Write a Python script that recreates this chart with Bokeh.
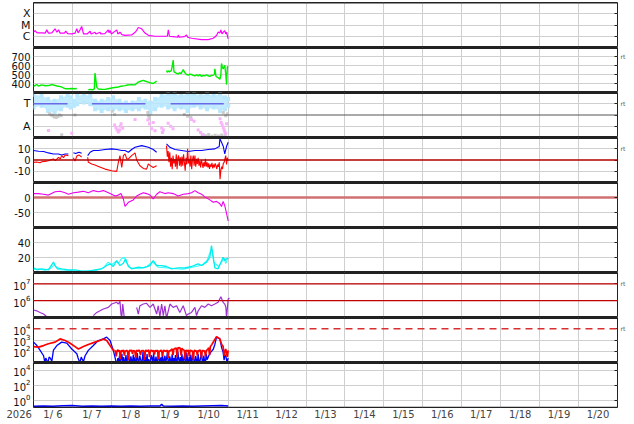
import numpy as np
from bokeh.plotting import figure
from bokeh.layouts import column
from bokeh.models import FixedTicker, Span, LinearAxis, LogAxis, Range1d
from bokeh.embed import file_html
from bokeh.resources import INLINE

nan = float("nan")

# ---------------- data (hours since 2026-01-06 00:00) ----------------
xray_h = [0, 1.0, 2.0, 3.1, 5.0, 7.2, 8.2, 9.2, 11.3, 13.3,
          14.4, 15.4, 16.4, 19.0, 19.9, 21.0, 23.6, 25.6, 26.7, 27.5,
          28.7, 29.7, 30.8, 33.0, 34.9, 35.5, 37.9, 38.5, 41.0, 41.5,
          44.0, 46.1, 46.6, 47.2, 48.0, 51.3, 52.0, 53.3, 54.5, 56.4,
          60.5, 63.0, 64.6, 66.7, 68.7, 70.8, 74.9, 79.0, 82.5, 83.1,
          83.8, 86.0, 89.0, 89.2, 89.8, 93.0, 94.3, 95.0, 97.4, 103.6,
          107.7, 110.8, 112.8, 113.8, 114.9, 115.5, 116.2, 117.0, 117.9, 118.5,
          119.0, 120.0]
xray_flux = [2.3e-6, 3.2e-6, 2.1e-6, 2.0e-6, 2.0e-6, 1.9e-6, 3.7e-6, 1.9e-6, 2.0e-6, 4.6e-6,
             2.3e-6, 3.7e-6, 1.9e-6, 1.9e-6, 2.8e-6, 1.7e-6, 1.6e-6, 1.9e-6, 4.6e-6, 2.0e-6,
             3.7e-6, 7.4e-6, 1.6e-6, 1.6e-6, 2.8e-6, 1.6e-6, 2.3e-6, 1.6e-6, 2.3e-6, 1.6e-6,
             1.7e-6, 3.7e-6, 2.0e-6, 3.2e-6, 1.6e-6, 3.7e-6, 1.6e-6, 2.3e-6, 1.4e-6, 1.2e-6,
             1.3e-6, 2.5e-6, 6.0e-6, 4.6e-6, 1.9e-6, 1.2e-6, 1.0e-6, 1.0e-6, 1.0e-6, 3.7e-6,
             1.0e-6, 9.3e-7, 8.1e-7, 1.3e-6, 8.1e-7, 9.3e-7, 1.3e-6, 8.1e-7, 6.6e-7, 5.0e-7,
             5.0e-7, 6.6e-7, 1.15e-6, 2.3e-6, 2.0e-6, 3.7e-6, 1.6e-6, 2.3e-6, 3.2e-6, 1.6e-6,
             2.3e-6, 5.8e-7]

sw_h = [0, 1, 2, 3, 4, 5, 6, 7.5, 9.2, 10.5,
        11.3, 13, 14.5, 15.4, 16.5, 17.4, 18.5, 19.5, 21.5, 23.6,
        25.6, 26.7, 27.5, 33.8, 35, 36.5, 37.5, 37.9, 38.4, 39,
        40, 42, 44.1, 46, 48.2, 50, 52.3, 54, 56.4, 58,
        60.5, 62.5, 64.6, 66, 67.7, 69, 70.8, 72.5, 73.8, 75.9,
        76.5, 82.0, 82.5, 83.1, 84, 85, 85.6, 86.1, 86.6, 87.2,
        88, 89.2, 90, 91, 92.3, 93.3, 94.3, 95.4, 96.5, 97.4,
        98.5, 99.5, 100.5, 101.5, 102.5, 103.6, 104.5, 105.6, 106.7, 107.7,
        108.7, 109.7, 110.8, 111.5, 111.8, 112.5, 113.2, 113.8, 114.4, 114.9,
        115.5, 115.9, 116.4, 116.9, 117.4, 117.9, 118.6, 119.0, 119.5, 120]
sw_speed = [369, 380, 388, 372, 378, 385, 380, 375, 377, 383,
            388, 380, 372, 369, 365, 361, 350, 342, 342, 345,
            342, 345, nan, 330, 335, 330, 340, 517, 447, 360,
            338, 336, 335, 342, 350, 355, 361, 370, 377, 383,
            388, 385, 416, 425, 435, 425, 416, 405, 400, 427,
            nan, 544, 525, 540, 530, 545, 600, 661, 530, 525,
            515, 505, 520, 510, 556, 520, 500, 493, 505, 500,
            490, 486, 495, 485, 500, 478, 490, 485, 495, 486,
            480, 490, 493, 500, 563, 480, 470, 466, 455, 447,
            500, 622, 583, 560, 583, 603, 490, 388, 583, 590]

# IMF sector (phi angle, deg): light-blue band envelope, grey and pink points
sec_h = [0, 5, 9, 13, 17, 21, 23, 25, 27, 31, 35, 38, 42, 46, 49, 53, 57,
         61, 65, 69, 72, 75, 79, 83, 87, 91, 95, 99, 103, 107, 111, 115, 118, 120]
sec_lo = [240, 254, 213, 199, 226, 254, 240, 254, 267, 281, 267, 226, 213, 226, 226, 226, 213,
          226, 226, 240, 199, 226, 254, 240, 226, 240, 213, 254, 240, 226, 240, 213, 226, 254]
sec_hi = [343, 335, 308, 295, 322, 335, 322, 295, 335, 343, 335, 295, 295, 308, 322, 295, 281,
          281, 308, 295, 281, 308, 335, 349, 349, 335, 349, 349, 335, 349, 335, 349, 322, 308]
grey_h = [10, 11, 12, 13, 14, 15, 16, 17, 17.4, 25.6, 48.5, 50, 70.5, 71, 71.5,
          93, 95, 97, 104, 106, 108, 110, 112, 114, 116, 118, 117, 118.5, 119.5]
grey_phi = [190, 180, 172, 165, 160, 168, 180, 175, 22, 180, 210, 185, 200, 170, 150,
            185, 170, 160, 20, 15, 25, 10, 18, 12, 20, 15, 200, 175, 190]
pink_h = [9.2, 23.6, 50, 50.8, 51.5, 52.3, 53, 53.5, 54, 55, 62.6, 70.5, 71.5, 72.8, 73.8,
          74.9, 79, 79.5, 80, 83, 84.5, 86, 97.4, 99, 101.5, 103, 104.5, 115, 115.7, 116.3,
          117, 117.5, 118, 118.5, 119]
pink_phi = [57, 35, 100, 80, 60, 45, 60, 90, 110, 75, 145, 140, 110, 70, 120,
            55, 76, 40, 60, 115, 90, 70, 145, 130, 60, 40, 25, 150, 120, 100,
            80, 60, 45, 30, 110]
sector_start = [0, 36, 84.5]
sector_end = [21, 69, 117.3]
sector_phi = [270, 270, 270]

bt_h = [0, 3.1, 6.2, 9.2, 12.3, 15.4, 17.4, 19.5, 21.5, 22.5,
        24.6, 26, 28, 29.7, 30.5, 33.4, 34.9, 36.9, 40, 44.1,
        48.2, 51.3, 54.4, 56.4, 58.5, 60.5, 62.6, 66.7, 70.8, 73.8,
        75.9, 77, 82.0, 84.1, 87.2, 91.3, 95.4, 99.5, 103.6, 107.7,
        111.8, 114.5, 114.9, 115.9, 117, 117.9, 119, 120]
bt_nt = [8.4, 7.8, 7.5, 6.3, 5.4, 5.4, 4.5, 5.4, 5.4, nan,
         6.5, 5.8, 6.9, 6.0, nan, 3.9, 6.9, 8.4, 8.4, 9.3,
         9.9, 9.3, 8.4, 8.4, 6.9, 9.3, 11.3, 12.8, 11.3, 9.3,
         6.9, nan, 14.3, 11.3, 9.3, 8.4, 7.5, 8.4, 8.4, 9.3,
         9.9, 12, 18.8, 15.8, 12, 5.4, 12, 15.8]
# Bz up to the data gap on 1/9
bz_h = [0, 2, 4, 5.1, 7, 9.2, 11, 12.3, 13.5, 15.4,
        16.5, 17.4, 18.5, 19.5, 21.5, 22.5, 24.6, 25.6, 26.7, 28,
        29.7, 30.5, 33.4, 33.8, 35.9, 37.9, 40.0, 44.1, 48.2, 51.3,
        52.3, 53.3, 54.4, 55.4, 56.4, 57.5, 58.5, 60.5, 62.6, 63.6,
        65.6, 67.7, 69.7, 70.8, 72, 73.8, 75.9]
bz_nt = [-2.1, -1.8, -2.4, -1.5, -1.2, -0.6, 0.5, 0.9, -0.5, 2.4,
         1.0, 3.9, 2.0, 4.5, 3.9, nan, 2.0, -1.0, 3.5, 4.5,
         2.5, nan, 2.4, -2.1, -3.6, -4.5, -5.7, -8.1, -9.6, -10.1,
         -2.1, 3.9, -6.6, 3.9, 5.4, 1.0, 0.9, 3.9, 6.3, 0.0,
         -5.1, -7.5, -8.1, -3.6, -5.0, -6.6, -5.1]
# Bz after the gap, half-hourly from 1/9 10:00
bz2_start_h = 82.0
bz2_nt = [12.8, 3.0, 8.0, -2.0, 6.9, -6.0, 2.0, -8.1, 4.0, -3.0,
          0.9, -6.0, 5.0, -8.1, 2.0, 4.0, -5.0, 2.4, -6.0, 3.0,
          -5.1, 5.0, -2.0, -9.6, 2.0, -4.0, 9.9, -3.0, 1.0, -6.0,
          4.0, -8.1, 0.0, 4.0, -5.0, 3.9, -6.0, 1.0, -3.6, 2.0,
          -5.1, -1.0, -6.6, 0.0, -3.0, -7.0, -2.0, -5.7, 1.0, -6.0,
          -2.0, -6.6, -3.0, -8.0, -4.0, -6.0, -2.5, -7.5, -4.0, -6.6,
          -3.0, -5.0, -8.0, -4.0, -6.0, -2.0, -17.0, -9.0, -6.0, -8.1,
          -3.0, -2.1, 1.0, 3.9, -4.0, 2.0, -0.6]

dst_h = [0, 3.1, 6.2, 9.2, 13.3, 16.4, 19.5, 21.5, 24.6, 27.7,
         30.8, 33.8, 36.9, 40.0, 43.1, 47.2, 50.3, 52.3, 53.9, 55.4,
         56.4, 58.5, 61.5, 63.6, 65.6, 67.7, 69.7, 71.8, 73.8, 75.9,
         77.9, 81.0, 83.1, 86.1, 89.2, 92.3, 95.4, 97.4, 99.5, 101.5,
         103.6, 105.6, 108.7, 110.8, 112.8, 114.9, 115.9, 116.9, 117.9, 119.0,
         120]
dst_nt = [13, 13, 11, 8, 19, 21, 16, 11, 16, 18,
          21, 16, 23, 19, 23, 13, 5, 8, 13, -5,
          -30, -16, -8, 5, 11, 16, 13, 8, -5, 11,
          19, 13, 16, 13, 5, 11, 13, 16, 23, 16,
          11, 2, -8, -16, -13, -21, -30, -13, -27, -53,
          -78]

cya_h = [0, 2.1, 5.1, 9.2, 12.3, 13.3, 14.4, 17.4, 21.5, 25.6,
         29.7, 33.8, 37.9, 42.0, 45.1, 47.2, 49.2, 51.3, 53.3, 55.4,
         56.8, 58.5, 60.5, 64.6, 67.7, 71.8, 73.8, 75.9, 79.0, 82.0,
         85.1, 89.2, 93.3, 97.4, 101.5, 103.6, 106.7, 108.7, 109.7, 110.8,
         111.8, 113.8, 116.9, 117.9, 119.0, 120]
cya_v = [6.2, 3.6, 4.9, 3.6, 13.8, 9.3, 6.2, 4.9, 3.6, 3.6,
         1.8, 1.8, 3.6, 4.9, 9.3, 11.6, 8.0, 16.0, 9.3, 12.4,
         18.2, 8.0, 4.9, 7.1, 6.2, 9.3, 16.0, 9.3, 9.3, 8.0,
         4.9, 6.2, 6.2, 8.0, 11.6, 9.3, 13.8, 20.4, 36.0, 20.4,
         6.2, 4.9, 20.4, 16.0, 18.2, 19.0]
cyb_h = [0, 3, 7, 11, 12.8, 15, 20, 27, 32, 38,
         43, 46, 48, 50.5, 52.5, 54, 56, 57.5, 60, 65,
         70, 73, 74.5, 77, 83, 88, 92, 96, 100, 104,
         107, 109, 110.2, 111, 114, 116, 117.5, 118.5, 120]
cyb_v = [4, 5, 3, 6, 11, 4, 3, 2, 1.5, 2.5,
         6, 13.8, 10, 14.5, 12, 18, 20.4, 12, 6, 5,
         8, 14, 12, 7, 6, 5, 4.5, 6, 8, 10,
         16, 28, 30, 14, 8, 14, 19, 12, 20]

pur_h = [0, 2, 4, 6.2, 8.2, 10.3, 11, 36.9, 39, 41,
         43.1, 46.1, 48.2, 51.3, 52.3, 53.3, 53.9, 54.4, 55, 56,
         57, 63.6, 64.6, 65.6, 67.7, 69.7, 71.8, 73.8, 75.9, 76.9,
         77.9, 79, 80, 81, 82, 84.1, 86.1, 88.2, 90.2, 92.3,
         94.3, 95.4, 97.4, 99.5, 100.5, 101.5, 103.6, 105.6, 107.7, 109.7,
         111.8, 113.8, 115.5, 116.9, 117.9, 118.6, 119.0, 120, 120.8]
pur_v = [2.8e5, 2.5e5, 2.0e5, 1.6e5, 1.1e5, 9e4, nan, 1.3e5, 2.0e5, 2.5e5,
         3.2e5, 4.0e5, 6.3e5, 8.0e5, 6.3e5, 9.1e5, 1.6e5, 1.0e5, 6.3e5, 9e4,
         nan, 4.0e5, 1.6e5, 5.0e5, 6.3e5, 7.0e5, 4.0e5, 6.3e5, 1.6e5, 5.0e5,
         1.1e5, 6.3e5, 1.3e5, 5.0e5, 9e4, 6.3e5, 4.0e5, 5.0e5, 2.0e5, 5.0e5,
         1.3e5, 1.6e5, 2.0e5, 4.0e5, 1.3e5, 2.5e5, 5.0e5, 4.0e5, 6.3e5, 5.0e5,
         6.3e5, 8.0e5, 1.7e6, 8.0e5, 6.3e5, 4.0e5, 9e4, 1.26e6, 1.45e6]

# panel 8: smooth parts (irregular hours) + noisy half-hourly parts
blue8_h = [0, 2.1, 4.1, 6.2, 7.0, 7.6, 8.2, 9.0, 9.6, 10.3,
           11.3, 12.3, 14.4, 17.4, 20.5, 23.6, 26.7, 27.5, 28.0, 28.7,
           29.4, 30.0, 30.8, 31.8, 33.8, 36.9, 39.9, 43.1, 45.1, 47.2,
           49.2, 50.5, 51.0]
blue8_v = [650, 320, 120, 40, 10, 25, 16, 10, 30, 25,
           13, 125, 320, 650, 520, 160, 60, 25, 16, 10,
           30, 20, 12, 40, 120, 320, 900, 1250, 1800, 900,
           120, 20, 10]
blue8n_start_h = 51.5
blue8n_v = [10, 25, 12, 40, 10, 18, 60, 11, 30, 10, 14, 45, 10, 22, 80, 12, 10, 35, 15, 10,
            50, 11, 28, 10, 16, 70, 12, 10, 40, 20, 10, 13, 90, 15, 10, 30, 11, 55, 10, 20,
            12, 10, 45, 25, 10, 65, 14, 10, 33, 12, 10, 85, 18, 10, 28, 11, 50, 10, 15, 40,
            10, 22, 70, 12, 10, 35, 16, 10, 60, 11, 25, 10, 45, 13, 10, 90, 20, 10, 30, 12,
            55, 10, 18, 40, 11, 10, 75, 14, 10, 32, 12, 50, 10, 20, 65, 11, 10, 38, 15, 10,
            55, 12, 10, 28, 80, 14, 10, 42, 12, 10, 60, 18, 25, 40, 50, 70, 90, 110]
blue8e_h = [110.0, 110.8, 111.8, 112.8, 113.8, 114.9, 116, 116.9, 117.5, 118, 118.5, 119.3, 120]
blue8e_v = [110, 150, 400, 1800, 1500, 1250, 200, 80, 16, 50, 40, 10, 25]

red8_h = [0, 3.1, 6.2, 9.2, 13.3, 16.4, 19.5, 22.6, 25.6, 27.7,
          30.8, 33.8, 37.9, 41.0, 43.1, 45.1, 47.2, 49.2, 50.0]
red8_v = [260, 230, 320, 460, 650, 1250, 900, 520, 260, 160,
          260, 400, 650, 900, 1250, 900, 320, 120, 120]
red8n_start_h = 50.0
red8n_v = [120, 100, 35, 110, 130, 95, 120, 20, 105, 115, 90, 130, 40, 110, 100, 125, 95, 16, 110, 120,
           100, 130, 60, 105, 115, 95, 25, 120, 110, 100, 130, 90, 45, 115, 105, 120, 100, 18, 110, 125,
           95, 115, 130, 30, 100, 120, 110, 90, 125, 50, 105, 115, 100, 130, 20, 110, 95, 120, 115, 35,
           105, 125, 100, 110, 90, 130, 25, 115, 100, 120, 140, 160, 45, 150, 170, 180, 200, 30, 210, 190,
           220, 160, 40, 180, 150, 130, 120, 20, 125, 110, 100, 130, 35, 115, 120, 100, 110, 18, 105, 125,
           95, 115, 40, 120, 100, 130, 110, 25, 105, 120, 100, 115, 35, 110, 130, 160, 200, 45, 260, 320,
           400]
red8e_h = [110.0, 110.8, 112.8, 113.8, 114.9, 116, 116.9, 117.5, 117.9, 118.5, 119.5, 120]
red8e_v = [400, 650, 2000, 1600, 1250, 400, 260, 40, 83, 160, 32, 120]

p9_h = [0, 6, 12, 18, 24, 30, 36, 42, 48, 54, 60, 66, 72, 78, 79, 80, 86, 92, 98, 104, 110, 116, 120]
p9_v = [0.15, 0.16, 0.15, 0.17, 0.18, 0.15, 0.16, 0.15, 0.16, 0.15, 0.16, 0.15,
        0.16, 0.16, 0.28, 0.16, 0.15, 0.16, 0.15, 0.16, 0.17, 0.18, 0.16]

day_grid = [7, 8, 9, 10, 11, 12, 13, 14, 15, 16, 17, 18, 19, 20]
day_label_pos = [6.5, 7.5, 8.5, 9.5, 10.5, 11.5, 12.5, 13.5, 14.5, 15.5, 16.5, 17.5, 18.5, 19.5, 20.5]
day_labels = ["1/ 6", "1/ 7", "1/ 8", "1/ 9", "1/10", "1/11", "1/12", "1/13",
              "1/14", "1/15", "1/16", "1/17", "1/18", "1/19", "1/20"]
year_label = "2026"


def days(hours):
    return [6 + h / 24.0 for h in hours]


def half_hourly(start_h, values):
    return days([start_h + 0.5 * i for i in range(len(values))])


# ---------------- layout helpers ----------------
W = 634
XR = Range1d(6, 21)
GRID = "#cfcfcf"
DARK = "#222222"
FONT = "DejaVu Sans"


def make_panel(height, yr, ytype="linear", tick_vals=(), tick_text=None, grid_vals=(),
               extra_ticks=(), rt_at=None, top=0, bottom=0, first=False, last=False):
    p = figure(width=W, height=height, x_range=XR, y_range=Range1d(*yr), y_axis_type=ytype,
               output_backend="svg", toolbar_location=None,
               min_border_left=33, min_border_right=17, min_border_top=top, min_border_bottom=bottom,
               outline_line_color=DARK, outline_line_width=1)
    p.xgrid.ticker = FixedTicker(ticks=day_grid)
    p.xgrid.grid_line_color = GRID
    p.ygrid.ticker = FixedTicker(ticks=list(grid_vals))
    p.ygrid.grid_line_color = GRID
    ya = p.yaxis[0]
    ya.ticker = FixedTicker(ticks=list(tick_vals))
    if tick_text is not None:
        ya.major_label_overrides = dict(zip(tick_vals, tick_text))
    ya.major_tick_in = 0
    ya.major_tick_out = 0
    ya.minor_tick_line_color = None
    ya.axis_line_color = None
    ya.major_label_text_font = FONT
    ya.major_label_text_font_size = "10px"
    ya.major_label_text_color = "#111111"
    ya.major_label_standoff = 3

    rticks = sorted(set(list(grid_vals)) | set(list(extra_ticks)))
    ov = {t: " " for t in rticks}
    if rt_at is not None:
        ov[rt_at] = "rt"
    Ax = LogAxis if ytype == "log" else LinearAxis
    ra = Ax(ticker=FixedTicker(ticks=rticks), major_label_overrides=ov,
            major_tick_in=3, major_tick_out=0, minor_tick_line_color=None,
            axis_line_color=None, major_tick_line_color=DARK,
            major_label_text_font=FONT, major_label_text_font_size="6px",
            major_label_text_color="#555555", major_label_standoff=3)
    p.add_layout(ra, "right")

    if not last:
        p.xaxis.visible = False
    # panel separators
    p.add_layout(Span(location=yr[0], dimension="width", line_color=DARK,
                      line_width=1.5 if last else 3))
    p.add_layout(Span(location=yr[1], dimension="width", line_color=DARK,
                      line_width=2 if first else 3))
    return p


H = 45
panels = []

# 1: X-ray
p1 = make_panel(H + 2, (1e-7, 1e-3), "log", [1e-4, 1e-5, 1e-6], ["X", "M", "C"],
                [1e-4, 1e-5, 1e-6], top=2, first=True)
p1.yaxis[0].major_label_text_font_size = "11px"
p1.line(days(xray_h), xray_flux, line_color="#ff00ff", line_width=1.2)
panels.append(p1)

# 2: solar wind speed
p2 = make_panel(H, (300, 800), "linear", [400, 500, 600, 700], ["400", "500", "600", "700"],
                [400, 500, 600, 700], rt_at=700)
p2.line(days(sw_h), sw_speed, line_color="#00ee00", line_width=1.4)
panels.append(p2)

# 3: IMF sector
p3 = make_panel(H, (0, 360), "linear", [270, 90], ["T", "A"], [270, 90],
                extra_ticks=[180], rt_at=270)
p3.yaxis[0].major_label_text_font_size = "11px"
p3.varea(x=days(sec_h), y1=sec_lo, y2=sec_hi, fill_color="#b8e8ff", fill_alpha=0.85)
p3.scatter(days(sec_h), sec_hi, marker="square", size=4, fill_color="#b8e8ff", line_color=None)
p3.scatter(days(sec_h), sec_lo, marker="square", size=4, fill_color="#b8e8ff", line_color=None)
p3.scatter(days(grey_h), grey_phi, marker="square", size=3, fill_color="#cccccc",
           line_color=None)
p3.scatter(days(pink_h), pink_phi, marker="square", size=3, fill_color="#f9b3f9",
           line_color=None)
p3.segment(x0=days(sector_start), x1=days(sector_end), y0=sector_phi, y1=sector_phi,
           line_color="#6a6ae8", line_width=1.3)
p3.add_layout(Span(location=180, dimension="width", line_color="#555555", line_width=1.2))
panels.append(p3)

# 4: IMF Bt / Bz
p4 = make_panel(H, (-20, 20), "linear", [10, 0, -10], ["10", "0", "-10"], [10, -10],
                extra_ticks=[0], rt_at=10)
p4.line(days(bt_h), bt_nt, line_color="#0000ff", line_width=1.1)
p4.line(days(bz_h), bz_nt, line_color="#ff0000", line_width=1.1)
p4.line(half_hourly(bz2_start_h, bz2_nt), bz2_nt, line_color="#ff0000", line_width=1.1)
p4.add_layout(Span(location=0, dimension="width", line_color="#b00000", line_width=1.3))
panels.append(p4)

# 5: Dst
p5 = make_panel(H, (-100, 50), "linear", [0, -50], ["0", "-50"], [-50], extra_ticks=[0])
p5.add_layout(Span(location=0, dimension="width", line_color="#d07070", line_width=2.5,
                   level="underlay"))
p5.line(days(dst_h), dst_nt, line_color="#ee00ee", line_width=1.1)
panels.append(p5)

# 6: cyan index
p6 = make_panel(H, (0, 60), "linear", [40, 20], ["40", "20"], [40, 20])
p6.line(days(cyb_h), cyb_v, line_color="#33ffff", line_width=1.1)
p6.line(days(cya_h), cya_v, line_color="#00eeee", line_width=1.3)
panels.append(p6)

# 7: electron flux (purple)
p7 = make_panel(H, (1e5, 4.7e7), "log", [1e7, 1e6], None, [1e7, 1e6], rt_at=1e7)
p7.line(days(pur_h), pur_v, line_color="#a030d0", line_width=1.2)
p7.add_layout(Span(location=1e7, dimension="width", line_color="#c00000", line_width=1.2))
p7.add_layout(Span(location=1e6, dimension="width", line_color="#c00000", line_width=1.2))
panels.append(p7)

# 8: particle flux (blue / red)
p8 = make_panel(H, (1e1, 1e5), "log", [1e4, 1e3, 1e2], None, [1e3, 1e2],
                extra_ticks=[1e4], rt_at=1e4)
for xs, ys in [(days(blue8_h), blue8_v), (half_hourly(blue8n_start_h, blue8n_v), blue8n_v),
               (days(blue8e_h), blue8e_v)]:
    p8.line(xs, ys, line_color="#0000ff", line_width=1.3)
for xs, ys in [(days(red8_h), red8_v), (half_hourly(red8n_start_h, red8n_v), red8n_v),
               (days(red8e_h), red8e_v)]:
    p8.line(xs, ys, line_color="#ff0000", line_width=1.7)
p8.add_layout(Span(location=1e4, dimension="width", line_color="#d83030", line_width=1.5,
                   line_dash="7 5"))
panels.append(p8)

# 9: bottom panel
p9 = make_panel(H + 16, (1e-1, 1e5), "log", [1e4, 1e2, 1e0], None, [1e4, 1e2, 1e0],
                bottom=16, last=True)
p9.line(days(p9_h), p9_v, line_color="#0000ff", line_width=1.5)
xa = p9.xaxis[0]
year_pos = 6.001
xa.ticker = FixedTicker(ticks=[year_pos] + day_label_pos)
labels = dict(zip(day_label_pos, day_labels))
labels[year_pos] = year_label + "\u00a0" * 9
xa.major_label_overrides = labels
xa.major_tick_in = 0
xa.major_tick_out = 0
xa.minor_tick_line_color = None
xa.axis_line_color = None
xa.major_label_text_font = FONT
xa.major_label_text_font_size = "10px"
xa.major_label_standoff = 1
panels.append(p9)

layout = column(*panels, spacing=0)
open("out.html", "w").write(file_html(layout, INLINE))
